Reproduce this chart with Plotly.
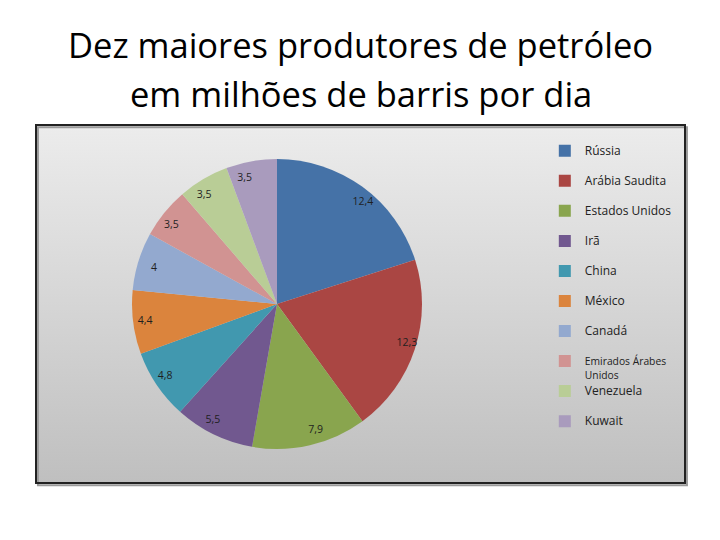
import plotly.graph_objects as go
import base64

countries = ["Rússia", "Arábia Saudita", "Estados Unidos", "Irã", "China",
             "México", "Canadá", "Emirados Árabes<br>Unidos", "Venezuela", "Kuwait"]
production = [12.4, 12.3, 7.9, 5.5, 4.8, 4.4, 4, 3.5, 3.5, 3.5]
colors = ["#4572A7", "#AA4643", "#89A54E", "#71588F", "#4198AF",
          "#DB843D", "#93A9CF", "#D19392", "#B9CD96", "#A99BBD"]

title_lines = ["Dez maiores produtores de petróleo", "em milhões de barris por dia"]


def legend_label(name):
    # show text at 12px while entry height follows the (smaller) legend font size
    parts = name.split("<br>")
    if len(parts) == 1:
        parts.append("\u00a0")
        size = 12
    else:
        size = 10.3  # wrapped entry: keep its two lines from colliding
    return "<br>".join('<span style="font-size:%spx">%s</span>' % (size, p) for p in parts)


legend_labels = [legend_label(c) for c in countries]

pie_domain = dict(x=[0.1479, 0.5948], y=[0.095, 0.905])
label_domain = dict(x=[0.1834, 0.5593], y=[0.1592, 0.8408])

fig = go.Figure()
fig.add_trace(go.Pie(
    labels=legend_labels,
    values=production,
    sort=False,
    direction="clockwise",
    rotation=0,
    marker=dict(colors=colors, line=dict(width=0)),
    textinfo="none",
    domain=pie_domain,
    hoverinfo="value",
))
# transparent twin pie carrying the value labels near the rim
fig.add_trace(go.Pie(
    labels=legend_labels,
    values=production,
    sort=False,
    direction="clockwise",
    rotation=0,
    marker=dict(colors=["rgba(0,0,0,0)"] * len(production), line=dict(width=0)),
    textinfo="value",
    textposition="outside",
    textfont=dict(family="Open Sans", size=10.5, color="#1f1f1f"),
    domain=label_domain,
    showlegend=False,
    hoverinfo="skip",
))

svg = ('<svg xmlns="http://www.w3.org/2000/svg" width="100" height="100" preserveAspectRatio="none">'
       '<defs><linearGradient id="g" x1="0" y1="0" x2="0" y2="1">'
       '<stop offset="0" stop-color="#ececec"/><stop offset="1" stop-color="#bfbfbf"/>'
       '</linearGradient></defs><rect width="100" height="100" fill="url(#g)"/></svg>')
src = "data:image/svg+xml;base64," + base64.b64encode(svg.encode()).decode()

fig.update_layout(
    width=712, height=532,
    margin=dict(l=28, r=35, t=117, b=57),
    paper_bgcolor="white",
    plot_bgcolor="rgba(0,0,0,0)",
    separators=", ",
    annotations=[
        dict(text=title_lines[0], xref="paper", yref="paper", x=0.5, y=1.2235,
             xanchor="center", yanchor="middle", showarrow=False,
             font=dict(family="Open Sans", size=34.5, color="black")),
        dict(text=title_lines[1], xref="paper", yref="paper", x=0.5, y=1.089,
             xanchor="center", yanchor="middle", showarrow=False,
             font=dict(family="Open Sans", size=34.5, color="black")),
    ],
    images=[dict(source=src, xref="paper", yref="paper", x=0, y=1,
                 sizex=1, sizey=1, xanchor="left", yanchor="top",
                 sizing="stretch", layer="below")],
    shapes=[
        dict(type="rect", xref="paper", yref="paper", x0=0.003, y0=-0.006, x1=1.003, y1=0.994,
             line=dict(color="#9a9a9a", width=2), layer="below"),
        dict(type="rect", xref="paper", yref="paper", x0=0, y0=0, x1=1, y1=1,
             line=dict(color="#222222", width=2)),
    ],
    legend=dict(
        x=0.784, y=0.965, xanchor="left", yanchor="top",
        bgcolor="rgba(0,0,0,0)", font=dict(family="Open Sans", size=10.4, color="#222222"),
        valign="top", itemclick=False,
    ),
)

fig.write_html("out.html")
